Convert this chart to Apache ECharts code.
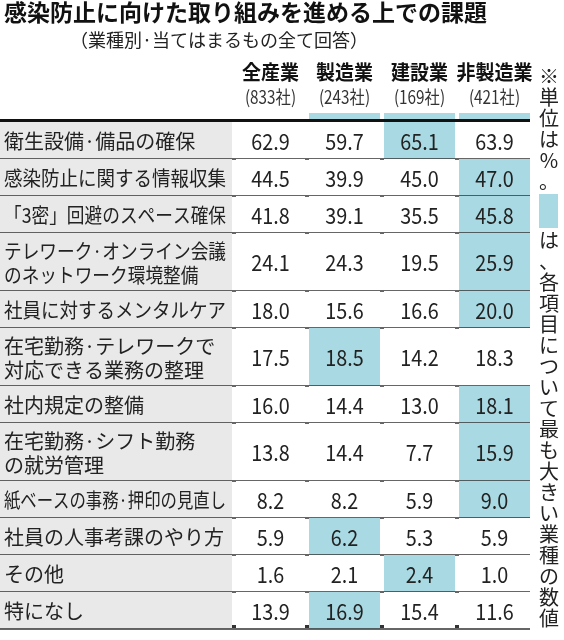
<!DOCTYPE html>
<html><head><meta charset="utf-8">
<script src="https://cdn.jsdelivr.net/npm/echarts@6/dist/echarts.min.js"></script>
<style>html,body{margin:0;padding:0;background:#fff}#c{width:564px;height:640px}</style>
</head><body><div id="c"></div>
<script>
var industries = ['全産業','製造業','建設業','非製造業'];
var counts = ['(833社)','(243社)','(169社)','(421社)'];
var items = ['衛生設備·備品の確保','感染防止に関する情報収集','「3密」回避のスペース確保','テレワーク·オンライン会議\nのネットワーク環境整備','社員に対するメンタルケア','在宅勤務·テレワークで\n対応できる業務の整理','社内規定の整備','在宅勤務·シフト勤務\nの就労管理','紙ベースの事務·押印の見直し','社員の人事考課のやり方','その他','特になし'];
var all = [62.9,44.5,41.8,24.1,18.0,17.5,16.0,13.8,8.2,5.9,1.6,13.9];
var mfg = [59.7,39.9,39.1,24.3,15.6,18.5,14.4,14.4,8.2,6.2,2.1,16.9];
var con = [65.1,45.0,35.5,19.5,16.6,14.2,13.0,7.7,5.9,5.3,2.4,15.4];
var nonmfg = [63.9,47.0,45.8,25.9,20.0,18.3,18.1,15.9,9.0,5.9,1.0,11.6];
var cols = [all,mfg,con,nonmfg];

var SINGLE=37, DOUBLE=58;
var rowTop=[], rowH=[], acc=0;
items.forEach(function(t){var h=t.indexOf('\n')>=0?DOUBLE:SINGLE;rowTop.push(acc);rowH.push(h);acc+=h;});
var total=acc;
var colEdges=[[0,232],[236,305],[309,380],[384,455],[459,530]];
var TEAL='#a9d9e2';
var LFONT='20px "Noto Sans CJK JP"';
var mctx=document.createElement('canvas').getContext('2d');mctx.font=LFONT;
function labelScale(t){var m=0;t.split('\n').forEach(function(s){m=Math.max(m,mctx.measureText(s).width);});return Math.min(1,222/m);}

var data=[];
items.forEach(function(t,i){data.push([i,0]);cols.forEach(function(c,j){data.push([i,j+1]);});});

function render(params, api){
  var i=api.value(0), j=api.value(1);
  var e=colEdges[j];
  var p0=api.coord([e[0],rowTop[i]]), p1=api.coord([e[1],rowTop[i]+rowH[i]]);
  var w=p1[0]-p0[0], h=p1[1]-p0[1];
  var ch=[];
  if(j===0){
    ch.push({type:'rect',shape:{x:p0[0],y:p0[1],width:w,height:h},style:{fill:'#e9e9e9'}});
    var sc=labelScale(items[i]);
    ch.push({type:'text',x:p0[0]+4,y:p0[1]+h/2+1,scaleX:sc,style:{x:0,y:0,text:items[i],fill:'#222',font:LFONT,verticalAlign:'middle',lineHeight:24}});
  } else {
    var vals=[cols[0][i],cols[1][i],cols[2][i],cols[3][i]];
    var v=cols[j-1][i], mx=Math.max(vals[1],vals[2],vals[3]);
    var hl=(j>1 && v===mx);
    ch.push({type:'rect',shape:{x:p0[0],y:p0[1],width:w,height:h},style:{fill:hl?TEAL:'#fff'}});
    ch.push({type:'text',x:p0[0]+w/2,y:p0[1]+h/2+1,scaleX:0.9,style:{x:0,y:0,text:v.toFixed(1),fill:'#222',font:'22px "Noto Sans CJK JP"',align:'center',verticalAlign:'middle'}});
  }
  ch.push({type:'line',shape:{x1:p0[0]-(j>0?4:0),y1:p1[1],x2:p1[0],y2:p1[1]},style:{stroke:'#333',lineWidth:1.5}});
  return {type:'group',children:ch};
}

var chart=echarts.init(document.getElementById('c'));
var gfx=[
  {type:'text',left:4,top:1,style:{text:'感染防止に向けた取り組みを進める上での課題',font:'bold 23px "Noto Sans CJK JP"',fill:'#111'}},
  {type:'text',left:70,top:31,style:{text:'（業種別·当てはまるもの全て回答）',font:'18px "Noto Sans CJK JP"',fill:'#222'}},
  {type:'rect',shape:{x:0,y:119,width:530,height:3},style:{fill:'#111'}},
  {type:'rect',shape:{x:0,y:625,width:530,height:3},style:{fill:'#333'}},
  {type:'text',x:549,y:66,style:{text:'※\n単\n位\nは\n%\n。',font:'20px "Noto Sans CJK JP"',fill:'#222',align:'center',lineHeight:21}},
  {type:'rect',shape:{x:539,y:194,width:19,height:34},style:{fill:TEAL}},
  {type:'text',x:549,y:230,style:{text:'は\n、\n各\n項\n目\nに\nつ\nい\nて\n最\nも\n大\nき\nい\n業\n種\nの\n数\n値',font:'20px "Noto Sans CJK JP"',fill:'#222',align:'center',lineHeight:21}}
];
industries.forEach(function(n,k){
  var e=colEdges[k+1], cx=(e[0]+e[1])/2;
  gfx.push({type:'text',x:cx,y:62,scaleX:0.95,style:{x:0,y:0,text:n,font:'bold 20px "Noto Sans CJK JP"',fill:'#111',align:'center'}});
  gfx.push({type:'text',x:cx,y:88,scaleX:0.85,style:{x:0,y:0,text:counts[k],font:'18px "Noto Sans CJK JP"',fill:'#333',align:'center'}});
  if(k>0) gfx.push({type:'rect',shape:{x:e[0],y:113,width:e[1]-e[0],height:6},style:{fill:TEAL}});
});
chart.setOption({
  animation:false,
  grid:{left:0,top:122,width:530,height:total,containLabel:false},
  xAxis:{type:'value',min:0,max:530,show:false},
  yAxis:{type:'value',min:0,max:total,inverse:true,show:false},
  series:[{type:'custom',renderItem:render,data:data,clip:false}],
  graphic:gfx
});
</script></body></html>
